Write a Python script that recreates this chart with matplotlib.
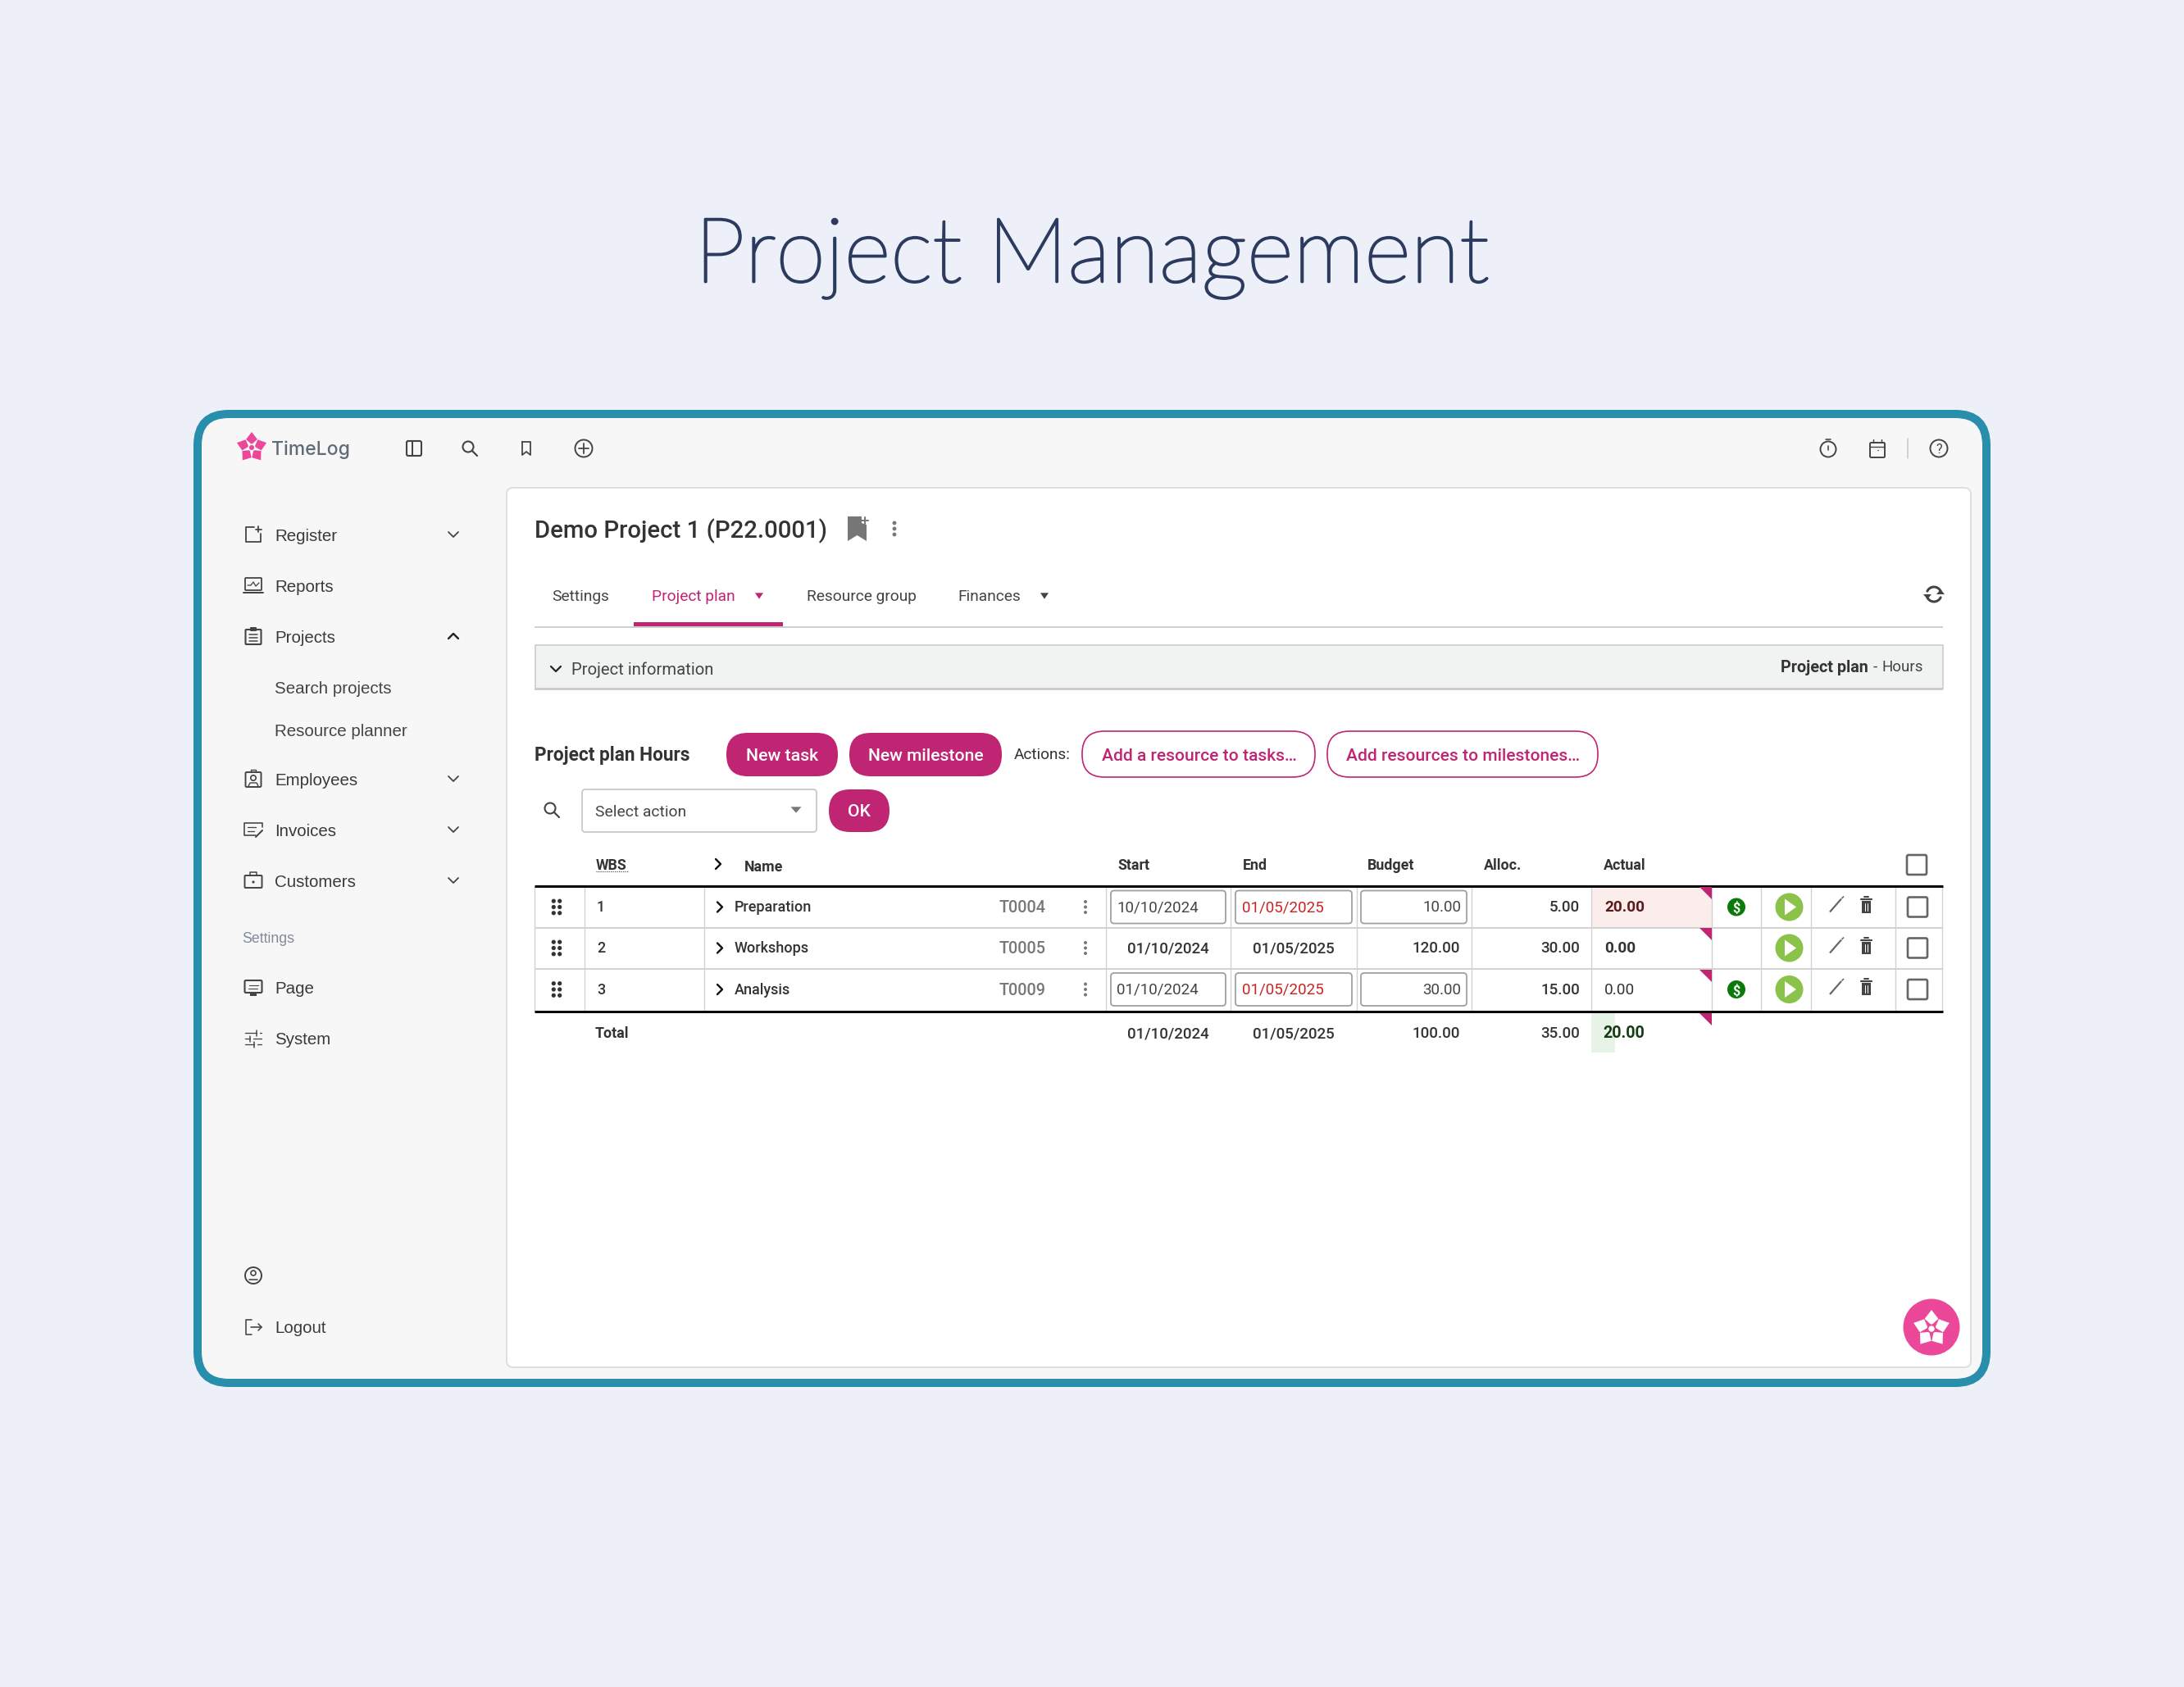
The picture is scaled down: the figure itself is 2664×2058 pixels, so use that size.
import numpy as np
import matplotlib
matplotlib.use("Agg")
import matplotlib.pyplot as plt
import matplotlib.patheffects as pe
from matplotlib.patches import FancyBboxPatch, Circle, Polygon, Rectangle

# colours
BG = "#EDF0F8"
FRAME = "#288EAB"
PANEL = "#F7F7F7"
MAGENTA = "#C02574"
PINK = "#EC4899"
DARK = "#333333"
GREY_LINE = "#D2D2D2"

SANS = ["Roboto", "DejaVu Sans"]
SIDE = ["Liberation Sans", "DejaVu Sans"]

# sidebar
side_items = ["Register", "Reports", "Projects", "Employees", "Invoices", "Customers", "Page", "System", "Logout"]
side_y = [652, 714, 776, 950, 1012, 1074, 1205, 1267, 1619]
side_sub = ["Search projects", "Resource planner"]
side_sub_y = [839, 891]
side_chevrons = ["Register", "Employees", "Invoices", "Customers"]

# tabs
tab_names = ["Settings", "Project plan", "Resource group", "Finances"]
tab_x = [673, 795, 984, 1168]

# table
col_names = ["Start", "End", "Budget", "Alloc.", "Actual"]
col_x = [1363, 1516, 1668, 1810, 1956]
wbs = ["1", "2", "3"]
task_names = ["Preparation", "Workshops", "Analysis"]
task_codes = ["T0004", "T0005", "T0009"]
starts = ["10/10/2024", "01/10/2024", "01/10/2024"]
ends = ["01/05/2025", "01/05/2025", "01/05/2025"]
budgets = ["10.00", "120.00", "30.00"]
allocs = ["5.00", "30.00", "15.00"]
actuals = ["20.00", "0.00", "0.00"]
has_inputs = [True, False, True]
has_dollar = [True, False, True]
total_vals = ["01/10/2024", "01/05/2025", "100.00", "35.00", "20.00"]
row_y = [1106.5, 1156.5, 1207]
grid_x = [652, 713, 859, 1349, 1501, 1655, 1795, 1941, 2088, 2148, 2209, 2312, 2369]

fig = plt.figure(figsize=(26.64, 20.58), dpi=100, facecolor=BG)
ax = fig.add_axes([0, 0, 1, 1])
ax.set_xlim(0, 2664)
ax.set_ylim(2058, 0)
ax.axis("off")


def rbox(x0, y0, x1, y1, r, fc="none", ec="none", lw=0, z=2):
    p = FancyBboxPatch((x0 + r, y0 + r), x1 - x0 - 2 * r, y1 - y0 - 2 * r,
                       boxstyle="round,pad=%f,rounding_size=%f" % (r, r),
                       fc=fc, ec=ec, lw=lw, zorder=z, mutation_aspect=1)
    ax.add_patch(p)


def line(xs, ys, c=DARK, w=2.0, z=3, cap="round"):
    ax.plot(xs, ys, color=c, lw=w * 0.72, zorder=z, solid_capstyle=cap, solid_joinstyle="round")


def txt(x, y, s, size=14, color=DARK, ha="left", weight="normal", family=SANS, z=5, **kw):
    ax.text(x, y - 1, s, fontsize=size, color=color, ha=ha, va="center_baseline",
            fontweight=weight, family=family, zorder=z, **kw)


def chevron(cx, cy, d="down", s=6, c=DARK, w=2.0):
    if d == "down":
        line([cx - s, cx, cx + s], [cy - s / 2, cy + s / 2, cy - s / 2], c, w)
    elif d == "up":
        line([cx - s, cx, cx + s], [cy + s / 2, cy - s / 2, cy + s / 2], c, w)
    else:
        line([cx - s / 2, cx + s / 2, cx - s / 2], [cy - s, cy, cy + s], c, w)


def tri(cx, cy, c, w=5, h=3.7):
    ax.add_patch(Polygon([(cx - w, cy - h), (cx + w, cy - h), (cx, cy + h)], fc=c, ec="none", zorder=4))


def dots(cx, cy, gap=6.5, r=2.0, c="#777777"):
    for k in (-1, 0, 1):
        ax.add_patch(Circle((cx, cy + k * gap), r, fc=c, ec="none", zorder=4))


def flower(cx, cy, R, color, bg, z=6):
    c = np.array([cx, cy])
    for k in range(5):
        a = np.radians(-90 + 72 * k)
        u = np.array([np.cos(a), np.sin(a)])
        v = np.array([-u[1], u[0]])
        pts = [c + u * R * 0.2, c + u * R * 0.53 + v * R * 0.365,
               c + u * R, c + u * R * 0.53 - v * R * 0.365]
        ax.add_patch(Polygon(pts, fc=color, ec="none", zorder=z))
    ax.add_patch(Circle((cx, cy), R * 0.24, fc=bg, ec="none", zorder=z + 0.1))
    ax.add_patch(Circle((cx, cy), R * 0.16, fc=color, ec="none", zorder=z + 0.2))


def search_icon(cx, cy, c="#444444"):
    ax.add_patch(Circle((cx - 2, cy - 2), 6.5, fc="none", ec=c, lw=1.5, zorder=4))
    line([cx + 3, cx + 9], [cy + 3, cy + 9], c, 2.2)


def sidebar_icon(name, cx, cy):
    c = "#444444"
    if name == "Register":
        line([cx + 1, cx - 9, cx - 9, cx + 9, cx + 9], [cy - 9, cy - 9, cy + 9, cy + 9, cy - 1], c, 1.8)
        line([cx + 6, cx + 6], [cy - 10, cy - 3], c, 1.8)
        line([cx + 2.5, cx + 9.5], [cy - 6.5, cy - 6.5], c, 1.8)
    elif name == "Reports":
        rbox(cx - 10, cy - 9, cx + 10, cy + 6, 1, ec=c, lw=1.3)
        line([cx - 12, cx + 12], [cy + 9, cy + 9], c, 2)
        line([cx - 7, cx - 3, cx, cx + 3, cx + 7], [cy, cy, cy - 4, cy + 1, cy - 3], c, 1.3)
    elif name == "Projects":
        rbox(cx - 9.5, cy - 8, cx + 9.5, cy + 10, 1, ec=c, lw=1.5)
        rbox(cx - 4, cy - 11, cx + 4, cy - 6, 1, fc=c)
        for dy in (-2, 2, 6):
            line([cx - 5, cx + 5], [cy + dy, cy + dy], c, 1.5)
    elif name == "Employees":
        rbox(cx - 9.5, cy - 8, cx + 9.5, cy + 10, 1.5, ec=c, lw=1.4)
        line([cx - 3, cx - 3, cx + 3, cx + 3], [cy - 8, cy - 11, cy - 11, cy - 8], c, 1.4)
        ax.add_patch(Circle((cx, cy - 1), 3.2, fc="none", ec=c, lw=1.2, zorder=4))
        line([cx - 6, cx - 4, cx + 4, cx + 6], [cy + 9, cy + 5, cy + 5, cy + 9], c, 1.4)
    elif name == "Invoices":
        line([cx + 11, cx + 11, cx - 11, cx - 11, cx + 3], [cy - 3, cy - 8, cy - 8, cy + 7, cy + 7], c, 1.6)
        line([cx - 7, cx + 3], [cy - 3, cy - 3], c, 1.3)
        line([cx - 7, cx + 1], [cy + 2, cy + 2], c, 1.3)
        line([cx + 3, cx + 11], [cy + 9, cy + 1], c, 2)
    elif name == "Customers":
        rbox(cx - 10.5, cy - 6, cx + 10.5, cy + 9, 1, ec=c, lw=1.4)
        line([cx - 4, cx - 4, cx + 4, cx + 4], [cy - 6, cy - 10, cy - 10, cy - 6], c, 1.5)
        ax.add_patch(Circle((cx, cy + 2), 1.6, fc=c, ec="none", zorder=4))
    elif name == "Page":
        rbox(cx - 10.5, cy - 9, cx + 10.5, cy + 6, 1.5, ec=c, lw=1.5)
        line([cx - 5, cx + 6], [cy - 3, cy - 3], c, 1.1)
        line([cx - 6, cx + 5], [cy + 1, cy + 1], c, 1.1)
        ax.add_patch(Rectangle((cx - 4, cy + 6), 8, 3.5, fc=c, ec="none", zorder=4))
    elif name == "System":
        for dy, k in ((-7, 4), (0, -4), (7, 1)):
            line([cx - 10, cx + 10], [cy + dy, cy + dy], c, 1.3)
            line([cx + k, cx + k], [cy + dy - 3.5, cy + dy + 3.5], c, 1.5)
            ax.add_patch(Rectangle((cx + k + 1, cy + dy - 2), 3, 4, fc=PANEL, ec="none", zorder=3.5))
    elif name == "Logout":
        line([cx - 2, cx - 9, cx - 9, cx - 2], [cy - 9, cy - 9, cy + 9, cy + 9], c, 1.6)
        line([cx - 3, cx + 10], [cy, cy], c, 1.6)
        line([cx + 6, cx + 10, cx + 6], [cy - 4, cy, cy + 4], c, 1.6)


# page title
title = ax.text(1332, 305, "Project Management", fontsize=79, color="#2B3A5E", ha="center", va="center_baseline",
                family=["Lato", "DejaVu Sans"], fontweight="light", zorder=5)
title.set_path_effects([pe.withStroke(linewidth=2.0, foreground="#2B3A5E")])

# app frame
rbox(241, 505, 2423, 1687, 38, fc=PANEL, ec=FRAME, lw=10 * 0.72, z=1)
# content card
rbox(618, 595, 2404, 1668, 8, fc="white", ec="#DEDEDE", lw=1.4, z=1.5)

# top bar
flower(307, 546, 19, PINK, PANEL)
txt(331, 547, "TimeLog", 16.5, "#5F6B76", family=["Inter", "DejaVu Sans"], weight="medium")
rbox(496, 538, 514, 556, 2, ec="#444444", lw=1.5)
line([503, 503], [538, 556], "#444444", 2)
search_icon(573, 547)
line([637, 637, 642, 647, 647, 637], [539, 555, 551, 555, 539, 539], "#444444", 1.8)
ax.add_patch(Circle((712, 547), 10.5, fc="none", ec="#444444", lw=1.4, zorder=4))
line([706, 718], [547, 547], "#444444", 1.8)
line([712, 712], [541, 553], "#444444", 1.8)
# right side of top bar
ax.add_patch(Circle((2230, 548), 9.5, fc="none", ec="#444444", lw=1.4, zorder=4))
line([2230, 2230], [544, 549], "#444444", 1.6)
line([2227, 2233], [536, 536], "#444444", 1.6)
rbox(2281, 540, 2299, 558, 1.5, ec="#444444", lw=1.4)
line([2281, 2299], [545, 545], "#444444", 1.4)
line([2285, 2285], [536, 540], "#444444", 1.4)
line([2295, 2295], [536, 540], "#444444", 1.4)
for x in (2285.5, 2290, 2294.5):
    line([x, x + 0.6], [549, 549], "#666666", 1.3)
line([2327, 2327], [535, 559], "#C8C8C8", 1.5)
ax.add_patch(Circle((2365, 547), 10.5, fc="none", ec="#444444", lw=1.4, zorder=4))
txt(2365, 548, "?", 11.5, "#444444", ha="center")

# sidebar
for name, y in zip(side_items, side_y):
    sidebar_icon(name, 309, y)
    txt(335, y + 1, name, 14.8, "#3A3A3A", family=SIDE)
for name in side_chevrons:
    chevron(553, side_y[side_items.index(name)], "down", 6, "#444444", 1.8)
chevron(553, side_y[2], "up", 6, "#222222", 2.4)
for name, y in zip(side_sub, side_sub_y):
    txt(335, y, name, 14.8, "#444444", family=SIDE)
txt(295, 1145, "Settings", 12.8, "#7F8A99", family=SIDE)
ax.add_patch(Circle((309, 1556), 10, fc="none", ec="#444444", lw=1.4, zorder=4))
ax.add_patch(Circle((309, 1553), 3, fc="none", ec="#444444", lw=1.2, zorder=4))
line([304, 314], [1561, 1561], "#444444", 1.6)

# project title
txt(652, 645, "Demo Project 1 (P22.0001)", 21.2, DARK, weight="medium")
ax.add_patch(Polygon([(1034, 630), (1051, 630), (1051, 638), (1057, 640), (1057, 660), (1045.5, 653), (1034, 660)],
                     fc="#777777", ec="none", zorder=4))
line([1051, 1059], [635, 635], "#777777", 2)
line([1055, 1055], [631, 639], "#777777", 2)
dots(1091, 645, 7, 2.4)

# tabs
for name, x in zip(tab_names, tab_x):
    txt(x, 727, name, 13.8, MAGENTA if name == "Project plan" else "#444444")
tri(926, 727, MAGENTA)
tri(1274, 727, "#444444")
line([652, 2370], [764.5, 764.5], "#CFCFCF", 2, cap="butt")
ax.add_patch(Rectangle((773, 759), 182, 4.5, fc=MAGENTA, ec="none", zorder=4))
# refresh
th = np.radians(np.linspace(205, 335, 20))
line(2359 + 9 * np.cos(th), 725 + 9 * np.sin(th), "#444444", 3)
line(2359 + 9 * np.cos(th + np.pi), 725 + 9 * np.sin(th + np.pi), "#444444", 3)
ax.add_patch(Polygon([(2362, 725), (2372, 725), (2367, 719)][::-1], fc="#444444", ec="none", zorder=4))
ax.add_patch(Polygon([(2346, 725), (2356, 725), (2351, 731)], fc="#444444", ec="none", zorder=4))

# project information bar
ax.add_patch(Rectangle((652.5, 787), 1717, 53, fc="#F1F3F2", ec="#CCCCCC", lw=1.2, zorder=2))
ax.add_patch(Rectangle((652, 839), 1718, 3, fc="#CCCCCC", ec="none", zorder=3))
chevron(678, 816, "down", 6, "#222222", 2.2)
txt(697, 816, "Project information", 14.6, "#444444")
txt(2346, 813, "Hours", 13.5, "#444444", ha="right")
txt(2285, 813, "-", 13.5, "#444444", ha="left")
txt(2279, 813, "Project plan", 14.2, "#333333", ha="right", weight="bold")

# action row
txt(652, 920, "Project plan Hours", 16.3, DARK, weight="bold")
rbox(886, 894, 1022, 947, 26, fc=MAGENTA)
txt(954, 921, "New task", 15.3, "white", ha="center", weight="medium")
rbox(1036, 894, 1222, 947, 26, fc=MAGENTA)
txt(1129, 921, "New milestone", 15.2, "white", ha="center", weight="medium")
txt(1237, 920, "Actions:", 13.7, "#333333")
rbox(1320, 892, 1604, 948, 27, fc="white", ec=MAGENTA, lw=1.2)
txt(1463, 921, "Add a resource to tasks…", 15.1, MAGENTA, ha="center", weight="medium")
rbox(1619, 892, 1949, 948, 27, fc="white", ec=MAGENTA, lw=1.2)
txt(1785, 921, "Add resources to milestones…", 15.1, MAGENTA, ha="center", weight="medium")

search_icon(673, 988)
rbox(710, 963, 996, 1015, 4, fc="white", ec="#C9C9C9", lw=1.3)
txt(726, 990, "Select action", 13.9, "#444444")
tri(971, 988, "#777777", 6.5, 3.7)
rbox(1011, 963, 1085, 1015, 26, fc=MAGENTA)
txt(1048, 989, "OK", 15.2, "white", ha="center", weight="medium")

# table header
txt(727, 1055, "WBS", 12.8, DARK, weight="bold")
ax.plot([727, 766], [1063, 1063], color="#555555", lw=0.9, ls=(0, (1, 1)), zorder=4)
chevron(876, 1054, "right", 6, "#111111", 2.4)
txt(908, 1057, "Name", 12.8, DARK, weight="bold")
for name, x in zip(col_names, col_x):
    txt(x, 1055, name, 12.8, DARK, weight="bold")
rbox(2326, 1043, 2350, 1067, 2, fc="white", ec="#666666", lw=1.9)

# table grid
for x in grid_x:
    line([x, x], [1081, 1233], GREY_LINE, 1.4, z=2, cap="butt")
for y in [1131.5, 1182]:
    line([652, 2369], [y, y], GREY_LINE, 2, z=2, cap="butt")
ax.add_patch(Rectangle((1941, 1082), 147, 49, fc="#FBEDEC", ec="none", zorder=1.9))
ax.add_patch(Rectangle((1941, 1236), 29, 48, fc="#E8F3E8", ec="none", zorder=1.9))
line([652, 2370], [1080.5, 1080.5], "#000000", 3, z=4, cap="butt")
line([652, 2370], [1234, 1234], "#000000", 3, z=4, cap="butt")

for i, y in enumerate(row_y):
    # drag handle
    for dx in (-3.7, 3.7):
        for k in (-1, 0, 1):
            ax.add_patch(Circle((679 + dx, y + k * 7.3), 2.6, fc="#333333", ec="none", zorder=4))
    txt(728, y, wbs[i], 12.8, DARK, weight="medium")
    chevron(878, y, "right", 6, "#111111", 2.4)
    txt(896, y, task_names[i], 13, DARK, weight="medium")
    txt(1276, y, task_codes[i], 14.3, "#777777", ha="right", weight="medium")
    dots(1324, y)

    if has_inputs[i]:
        rbox(1355, y - 20, 1495, y + 20, 4, fc="white", ec="#A0A0A0", lw=1.3)
        rbox(1507, y - 20, 1649, y + 20, 4, fc="white", ec="#A0A0A0", lw=1.3)
        rbox(1660, y - 20, 1789, y + 20, 4, fc="white", ec="#A0A0A0", lw=1.3)
        txt(1362, y, starts[i], 13.5, "#444444")
        txt(1515, y, ends[i], 13.5, "#CC2222")
        txt(1782, y, budgets[i], 13.5, "#444444", ha="right")
    else:
        txt(1425, y, starts[i], 13.5, DARK, ha="center", weight="medium")
        txt(1578, y, ends[i], 13.5, DARK, ha="center", weight="medium")
        txt(1781, y, budgets[i], 13.5, DARK, ha="right", weight="medium")
    txt(1927, y, allocs[i], 13.5, DARK, ha="right", weight="medium")
    act_c = "#5A1A1A" if i == 0 else DARK
    act_w = "normal" if i == 2 else "bold"
    txt(1957, y, actuals[i], 13.7, act_c, weight=act_w)
    # corner marker
    top = y - 24.5
    ax.add_patch(Polygon([(2073, top), (2088, top), (2088, top + 15)], fc=MAGENTA, ec="none", zorder=4))
    if has_dollar[i]:
        ax.add_patch(Circle((2118, y), 11, fc="#0B7A0B", ec="none", zorder=4))
        txt(2118, y + 1, "$", 11.5, "white", ha="center", weight="bold")
    ax.add_patch(Circle((2182.5, y), 17, fc="#8BC34A", ec="none", zorder=4))
    ax.add_patch(Polygon([(2177, y - 10), (2177, y + 10), (2191, y)], fc="white", ec="none", zorder=5))
    # pencil and trash
    line([2232, 2246], [y + 6, y - 10], "#666666", 2.2, cap="butt")
    line([2246.5, 2249], [y - 10.5, y - 13], "#666666", 1.6, cap="butt")
    ax.add_patch(Rectangle((2271, y - 8), 10.5, 15, fc="#444444", ec="none", zorder=4))
    line([2269.5, 2283], [y - 10, y - 10], "#444444", 2.2)
    line([2274, 2279], [y - 13, y - 13], "#444444", 2)
    for dx in (2274.5, 2278):
        line([dx, dx], [y - 5, y + 4], "white", 1, z=5)
    rbox(2327, y - 12, 2351, y + 12, 2, fc="white", ec="#666666", lw=1.9)

# totals row
txt(726, 1260, "Total", 12.8, DARK, weight="bold")
txt(1425, 1260, total_vals[0], 13.5, DARK, ha="center", weight="medium")
txt(1578, 1260, total_vals[1], 13.5, DARK, ha="center", weight="medium")
txt(1781, 1260, total_vals[2], 13.5, DARK, ha="right", weight="medium")
txt(1927, 1260, total_vals[3], 13.5, DARK, ha="right", weight="medium")
txt(1955, 1260, total_vals[4], 14.2, "#123D12", weight="bold")
ax.add_patch(Polygon([(2073, 1236), (2088, 1236), (2088, 1251)], fc=MAGENTA, ec="none", zorder=4))

# floating help button
ax.add_patch(Circle((2356, 1619), 34.5, fc=PINK, ec="none", zorder=5))
flower(2356, 1621, 23, "white", PINK, z=6)

fig.savefig("out.png", dpi=100, facecolor=BG)
